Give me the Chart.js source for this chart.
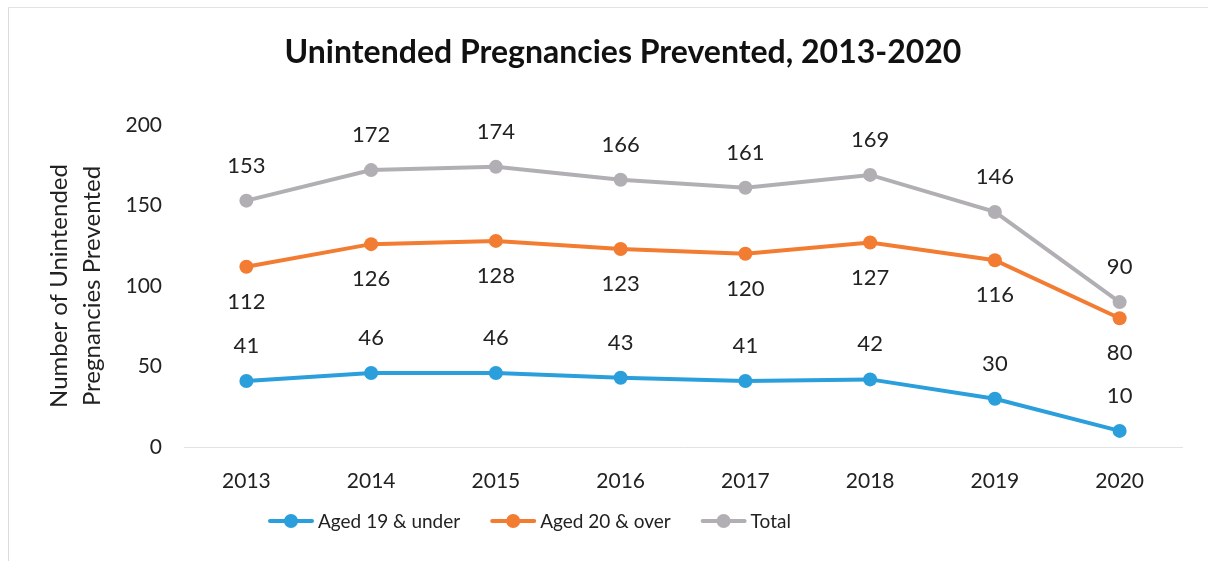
<!DOCTYPE html>
<html>
<head>
<meta charset="utf-8">
<script src="https://cdn.jsdelivr.net/npm/chart.js@4/dist/chart.umd.min.js"></script>
<style>
  html, body { margin: 0; padding: 0; background: #fff; }
  #wrap { position: absolute; left: 0; top: 0; width: 1208px; height: 561px; }
  #frame { position: absolute; left: 8px; top: 7px; right: 0; bottom: 0; border-left: 1px solid #dcdcdc; border-top: 1px solid #e4e4e4; pointer-events: none; }
</style>
</head>
<body>
<div id="wrap">
  <canvas id="chart" width="1208" height="561"></canvas>
  <div id="frame"></div>
</div>
<script>
// values
const years = ['2013', '2014', '2015', '2016', '2017', '2018', '2019', '2020'];
const under19 = [41, 46, 46, 43, 41, 42, 30, 10];
const over20 = [112, 126, 128, 123, 120, 127, 116, 80];
const total = [153, 172, 174, 166, 161, 169, 146, 90];
const seriesNames = ['Aged 19 & under', 'Aged 20 & over', 'Total'];
const yTicks = [0, 50, 100, 150, 200];
const titleText = 'Unintended Pregnancies Prevented, 2013-2020';

const FONT = 'Lato, "Open Sans", sans-serif';
const colors = ['#2a9fdc', '#f37c33', '#b1afb4'];
// where each series puts its value labels: -1 above, +1 below
const labelSide = [-1, 1, -1];

// title and legend drawn by hand so they sit where the original ones are
const chartDecor = {
  id: 'chartDecor',
  afterDraw(chart){
    const ctx = chart.ctx;
    ctx.save();
    ctx.font = 'bold 32px ' + FONT;
    ctx.fillStyle = '#111';
    ctx.textAlign = 'center';
    ctx.textBaseline = 'middle';
    ctx.fillText(titleText, 623, 53);

    // legend: line + dot swatch, then the name
    ctx.font = '19px ' + FONT;
    ctx.textAlign = 'left';
    let x = 268;
    const y = 521;
    chart.data.datasets.forEach((ds, i) => {
      ctx.strokeStyle = colors[i];
      ctx.fillStyle = colors[i];
      ctx.lineWidth = 4;
      ctx.lineCap = 'round';
      ctx.beginPath(); ctx.moveTo(x + 2, y); ctx.lineTo(x + 44, y); ctx.stroke();
      ctx.beginPath(); ctx.arc(x + 23, y, 7, 0, Math.PI * 2); ctx.fill();
      ctx.fillStyle = '#222';
      ctx.fillText(ds.label, x + 50, y + 1);
      x += 50 + ctx.measureText(ds.label).width + 30;
    });
    ctx.restore();
  }
};

const valueLabels = {
  id: 'valueLabels',
  afterDatasetsDraw(chart){
    const ctx = chart.ctx;
    ctx.save();
    ctx.font = '22px ' + FONT;
    ctx.fillStyle = '#222';
    ctx.textAlign = 'center';
    ctx.textBaseline = 'middle';
    chart.data.datasets.forEach((ds, i) => {
      chart.getDatasetMeta(i).data.forEach((pt, j) => {
        ctx.fillText(String(ds.data[j]), pt.x, pt.y + labelSide[i] * 35);
      });
    });
    ctx.restore();
  }
};

const dataSets = [under19, over20, total].map((vals, i) => ({
  label: seriesNames[i],
  data: vals,
  borderColor: colors[i],
  backgroundColor: colors[i],
  borderWidth: 4,
  pointRadius: 7,
  pointHoverRadius: 7,
  pointBackgroundColor: colors[i],
  pointBorderWidth: 0,
  tension: 0
}));

new Chart(document.getElementById('chart').getContext('2d'), {
  type: 'line',
  data: { labels: years, datasets: dataSets },
  options: {
    responsive: false,
    animation: false,
    layout: { padding: { left: 8, right: 26, top: 125, bottom: 56 } },
    plugins: {
      title: { display: false },
      legend: { display: false },
      tooltip: { enabled: false }
    },
    scales: {
      x: {
        offset: true,
        grid: { display: false, drawTicks: false },
        border: { display: true, color: '#e2e2e2', width: 1 },
        ticks: { color: '#222', font: { family: FONT, size: 21 }, padding: 22 },
        afterFit(s){ s.height = 58; }
      },
      y: {
        min: 0,
        max: 200,
        afterBuildTicks(s){ s.ticks = yTicks.map(v => ({ value: v })); },
        grid: { display: false, drawTicks: false },
        border: { display: false },
        ticks: { color: '#222', font: { family: FONT, size: 21 }, padding: 22 },
        title: {
          display: true,
          text: ['Number of Unintended', 'Pregnancies Prevented'],
          color: '#222',
          font: { family: FONT, size: 24, lineHeight: 1.4 },
          padding: { top: 34 }
        },
        afterFit(s){ s.width = 176; }
      }
    }
  },
  plugins: [valueLabels, chartDecor]
});
</script>
</body>
</html>
